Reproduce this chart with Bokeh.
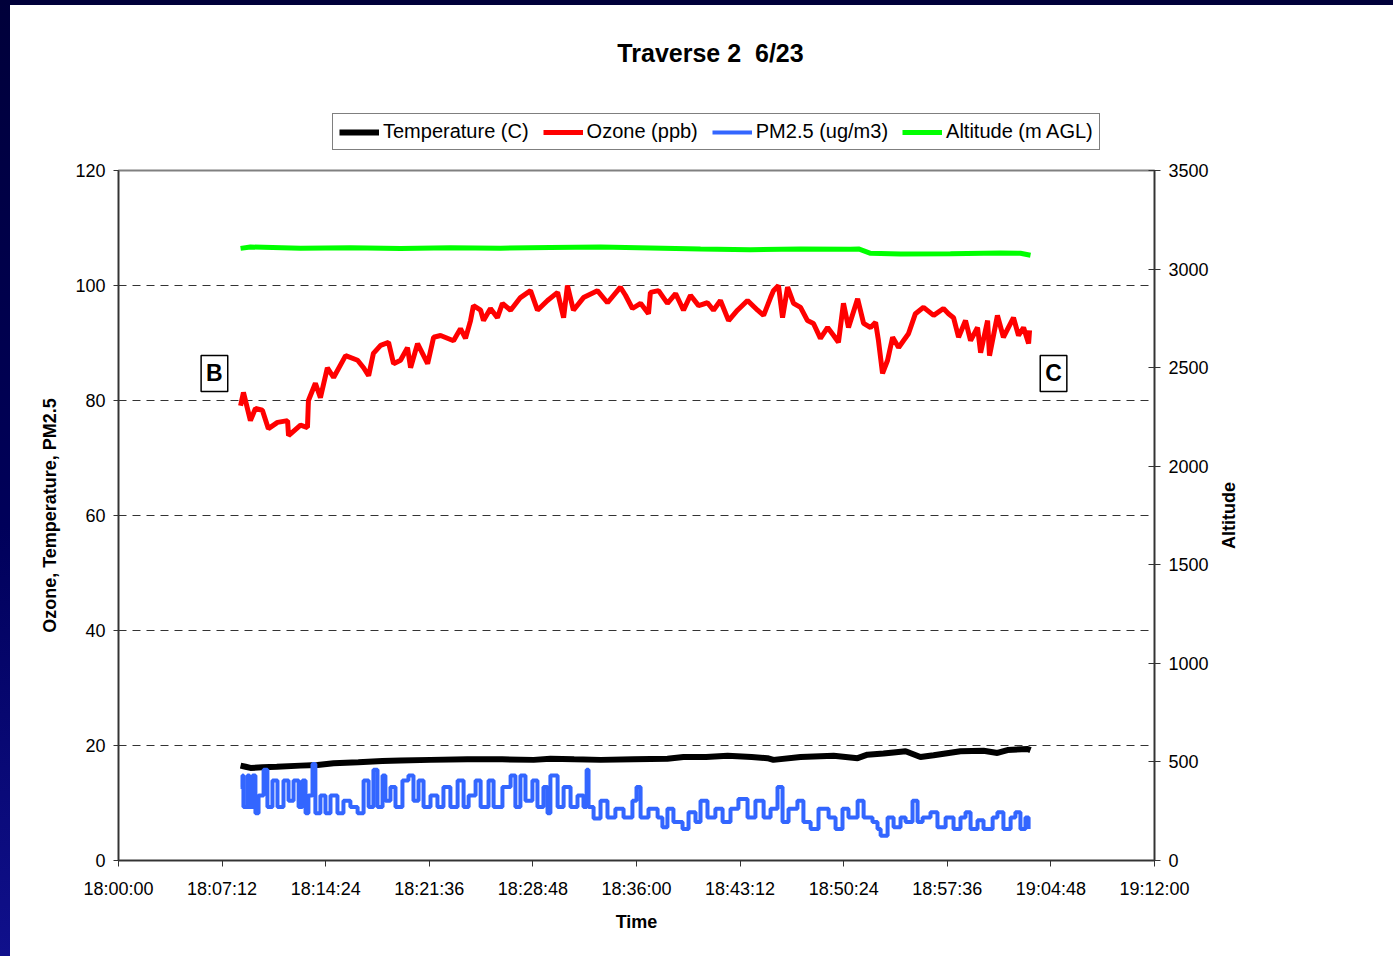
import math
from bokeh.plotting import figure
from bokeh.models import (Range1d, LinearAxis, FixedTicker, Legend, LegendItem,
                          Label, Div)
from bokeh.layouts import row, column
from bokeh.embed import file_html
from bokeh.resources import INLINE

FONT = "Liberation Sans"

# ---- data (time in seconds after 18:00:00) ----
x_ticks = [0, 432, 864, 1296, 1728, 2160, 2592, 3024, 3456, 3888, 4320]
x_tick_labels = ["18:00:00", "18:07:12", "18:14:24", "18:21:36", "18:28:48", "18:36:00",
                 "18:43:12", "18:50:24", "18:57:36", "19:04:48", "19:12:00"]
left_ticks = [0, 20, 40, 60, 80, 100, 120]
right_ticks = [0, 500, 1000, 1500, 2000, 2500, 3000, 3500]

ozone_t = [509, 521, 550, 571, 600, 625, 663, 705, 709, 759,
           788, 792, 821, 842, 871, 897, 947, 997, 1022, 1043,
           1063, 1093, 1126, 1147, 1176, 1205, 1218, 1247, 1289, 1314,
           1343, 1397, 1426, 1447, 1468, 1480, 1510, 1522, 1551, 1580,
           1601, 1635, 1676, 1718, 1747, 1789, 1831, 1856, 1872, 1897,
           1939, 1997, 2039, 2093, 2114, 2143, 2177, 2210, 2218, 2252,
           2289, 2323, 2356, 2385, 2419, 2456, 2481, 2510, 2544, 2581,
           2623, 2665, 2690, 2719, 2731, 2752, 2769, 2790, 2815, 2844,
           2873, 2898, 2927, 2957, 2982, 3002, 3023, 3044, 3082, 3107,
           3136, 3157, 3169, 3186, 3207, 3228, 3253, 3273, 3294, 3323,
           3357, 3399, 3440, 3461, 3482, 3503, 3532, 3553, 3582, 3595,
           3624, 3632, 3665, 3690, 3732, 3753, 3774, 3795, 3799]
ozone_ppb = [79.1, 81.4, 76.5, 78.6, 78.3, 75.1, 76.2, 76.5, 73.9, 75.7,
             75.3, 80.0, 83.0, 80.5, 85.7, 84.0, 87.8, 87.0, 85.7, 84.3,
             88.2, 89.6, 90.1, 86.4, 87.0, 89.2, 85.7, 89.9, 86.4, 91.0,
             91.3, 90.4, 92.5, 90.8, 93.9, 96.5, 95.7, 93.9, 96.0, 94.4,
             96.9, 95.7, 97.9, 99.1, 95.7, 97.4, 98.8, 94.4, 100.0, 95.7,
             97.9, 99.1, 97.0, 99.7, 98.3, 96.0, 96.9, 95.1, 98.8, 99.1,
             96.9, 98.6, 95.7, 98.3, 96.5, 97.0, 95.7, 97.4, 93.9, 95.7,
             97.4, 95.7, 94.8, 97.9, 99.1, 100.0, 94.4, 99.7, 96.9, 96.2,
             93.9, 93.4, 90.8, 92.7, 91.3, 90.1, 96.9, 92.7, 97.7, 93.4,
             92.7, 93.6, 90.4, 84.7, 87.0, 91.0, 89.2, 90.4, 91.6, 95.1,
             96.2, 94.8, 96.0, 95.1, 94.4, 91.0, 93.9, 90.4, 92.7, 88.3,
             93.9, 87.8, 94.8, 91.0, 94.4, 91.3, 92.7, 89.9, 92.2]

pm_t = [509, 517, 521, 538, 546, 559, 571, 584, 605, 621,
        642, 663, 688, 709, 730, 751, 767, 780, 792, 809,
        821, 842, 863, 884, 913, 938, 967, 997, 1022, 1043,
        1063, 1080, 1101, 1113, 1134, 1155, 1184, 1209, 1230, 1251,
        1272, 1301, 1330, 1355, 1384, 1414, 1439, 1460, 1489, 1510,
        1543, 1564, 1601, 1635, 1655, 1676, 1697, 1726, 1747, 1772,
        1789, 1801, 1831, 1856, 1885, 1914, 1939, 1952, 1960, 1981,
        2010, 2039, 2072, 2106, 2143, 2160, 2177, 2210, 2248, 2268,
        2289, 2314, 2352, 2377, 2406, 2427, 2456, 2489, 2519, 2552,
        2585, 2623, 2656, 2690, 2719, 2748, 2769, 2794, 2831, 2856,
        2886, 2919, 2961, 2990, 3019, 3044, 3082, 3107, 3144, 3165,
        3178, 3207, 3232, 3261, 3282, 3311, 3332, 3353, 3386, 3415,
        3449, 3482, 3511, 3532, 3553, 3582, 3607, 3645, 3665, 3690,
        3720, 3740, 3761, 3782, 3795]
pm25 = [12.8, 14.8, 9.3, 14.8, 9.3, 14.8, 8.2, 11.3, 15.8, 9.3,
        13.9, 9.3, 13.9, 10.4, 13.9, 9.3, 13.9, 8.2, 11.3, 16.8,
        8.2, 11.3, 8.2, 11.3, 8.2, 10.4, 9.3, 8.2, 13.9, 9.3,
        15.8, 9.3, 14.8, 10.4, 12.8, 9.3, 13.9, 14.8, 10.4, 13.9,
        9.3, 11.3, 9.3, 12.8, 9.3, 13.9, 9.3, 11.3, 13.9, 9.3,
        13.9, 9.3, 12.8, 14.8, 9.3, 14.8, 10.4, 13.9, 9.3, 12.8,
        8.2, 14.8, 9.3, 12.8, 9.3, 11.3, 9.3, 15.8, 9.3, 7.3,
        10.4, 7.5, 9.0, 7.5, 10.4, 12.8, 7.5, 9.0, 7.5, 5.8,
        9.0, 6.7, 5.5, 8.4, 6.7, 10.4, 7.5, 9.0, 6.7, 9.0,
        10.7, 7.5, 10.4, 7.5, 9.0, 12.8, 6.7, 9.0, 10.4, 6.7,
        5.5, 9.0, 7.5, 5.5, 9.0, 7.5, 10.4, 7.5, 6.7, 5.5,
        4.3, 7.5, 5.8, 7.5, 6.7, 10.4, 6.7, 7.5, 8.4, 5.8,
        7.5, 5.5, 7.5, 8.4, 5.5, 7.0, 5.5, 7.5, 8.4, 5.5,
        7.5, 8.4, 5.5, 7.5, 5.5]

temp_t = [509, 530, 550, 600, 660, 759, 830, 897, 1000, 1100,
          1176, 1300, 1455, 1600, 1731, 1801, 1900, 2010, 2148, 2289,
          2356, 2450, 2540, 2640, 2706, 2731, 2844, 2982, 3082, 3123,
          3190, 3232, 3282, 3344, 3399, 3511, 3607, 3665, 3707, 3791, 3803]
temp_c = [16.5, 16.3, 16.1, 16.2, 16.3, 16.5, 16.6, 16.9, 17.1, 17.3,
          17.4, 17.5, 17.6, 17.6, 17.5, 17.7, 17.6, 17.5, 17.6, 17.7,
          18.0, 18.0, 18.2, 18.0, 17.8, 17.5, 18.0, 18.2, 17.8, 18.4,
          18.6, 18.8, 19.0, 18.0, 18.3, 19.0, 19.1, 18.7, 19.2, 19.4, 19.2]

alt_t = [509, 550, 759, 967, 1176, 1384, 1593, 1801, 2010, 2218,
         2427, 2635, 2844, 3052, 3086, 3136, 3261, 3469, 3678, 3761, 3803]
alt_m = [3105, 3112, 3105, 3108, 3104, 3108, 3106, 3110, 3112, 3107,
         3102, 3098, 3102, 3100, 3102, 3080, 3077, 3078, 3081, 3080, 3070]

series_names = ["Temperature (C)", "Ozone (ppb)", "PM2.5 (ug/m3)", "Altitude (m AGL)"]
series_colors = ["black", "#ff0000", "#3366ff", "#00ff00"]
series_widths = [6, 5, 4, 5]

def blank_fig(w, h, **borders):
    f = figure(width=w, height=h, output_backend="svg", toolbar_location=None,
               x_range=Range1d(0, 1), y_range=Range1d(0, 1),
               x_axis_location=None, y_axis_location=None,
               background_fill_color="white", border_fill_color="white", **borders)
    f.outline_line_color = None
    f.grid.grid_line_color = None
    return f

# ---- header: title + legend (frame spans the same x as the chart frame) ----
head = blank_fig(1383, 155, min_border_left=108, min_border_right=239,
                 min_border_top=0, min_border_bottom=0)
head.add_layout(Label(x=592, y=108, x_units="screen", y_units="screen",
                      text="Traverse 2 \u00a06/23", text_align="center", text_baseline="middle",
                      text_font=FONT, text_font_size="25px", text_font_style="bold",
                      text_color="black"))
# legend keys (series drawn outside this header's visible range)
keys = [head.line(temp_t, temp_c, line_color=series_colors[0], line_width=series_widths[0]),
        head.line(ozone_t, ozone_ppb, line_color=series_colors[1], line_width=series_widths[1]),
        head.line(pm_t, pm25, line_color=series_colors[2], line_width=series_widths[2]),
        head.line(alt_t, alt_m, line_color=series_colors[3], line_width=series_widths[3])]
legend = Legend(items=[LegendItem(label=n, renderers=[r]) for n, r in zip(series_names, keys)],
                orientation="horizontal", location=(214, 10),
                label_text_font=FONT, label_text_font_size="20px",
                label_text_color="black",
                glyph_width=40, glyph_height=20, label_standoff=4, spacing=14,
                padding=6, margin=0,
                border_line_color="black", border_line_width=1,
                background_fill_color="white", background_fill_alpha=1)
head.add_layout(legend, "center")

# ---- main chart ----
p = figure(width=1204, height=796, output_backend="svg", toolbar_location=None,
           x_range=Range1d(0, 4320), y_range=Range1d(0, 120),
           min_border_left=108, min_border_right=60,
           min_border_top=10, min_border_bottom=96,
           background_fill_color="white", border_fill_color="white")
p.extra_y_ranges = {"alt": Range1d(0, 3500)}

p.outline_line_color = "#808080"
p.outline_line_width = 2
p.xgrid.grid_line_color = None
p.ygrid.ticker = FixedTicker(ticks=[20, 40, 60, 80, 100])
p.ygrid.grid_line_color = "#333333"
p.ygrid.grid_line_dash = "8 6"
p.ygrid.grid_line_width = 1

def style_axis(ax):
    ax.axis_line_color = "#333333"
    ax.axis_line_width = 1.5
    ax.major_tick_line_color = "#333333"
    ax.minor_tick_line_color = None
    ax.major_label_text_font = FONT
    ax.major_label_text_font_size = "18px"
    ax.major_label_text_color = "black"
    ax.axis_label_text_font = FONT
    ax.axis_label_text_font_size = "18px"
    ax.axis_label_text_font_style = "bold"
    ax.axis_label_text_color = "black"

xa = p.xaxis[0]
style_axis(xa)
xa.ticker = FixedTicker(ticks=x_ticks)
xa.major_label_overrides = dict(zip(x_ticks, x_tick_labels))
xa.major_tick_in = 0
xa.major_tick_out = 6
xa.major_label_standoff = 12
xa.axis_label = "Time"
xa.axis_label_standoff = 10

ya = p.yaxis[0]
style_axis(ya)
ya.ticker = FixedTicker(ticks=left_ticks)
ya.major_tick_in = 0
ya.major_tick_out = 5
ya.major_label_standoff = 8
ya.axis_label = "Ozone, Temperature, PM2.5"
ya.axis_label_standoff = 12

ra = LinearAxis(y_range_name="alt", ticker=FixedTicker(ticks=right_ticks))
style_axis(ra)
ra.major_tick_in = 6
ra.major_tick_out = 6
ra.major_label_standoff = 8
p.add_layout(ra, "right")

p.line(alt_t, alt_m, y_range_name="alt", line_color=series_colors[3], line_width=series_widths[3])
p.line(temp_t, temp_c, line_color=series_colors[0], line_width=series_widths[0])
p.step(pm_t, pm25, mode="after", line_color=series_colors[2], line_width=series_widths[2])
p.line(ozone_t, ozone_ppb, line_color=series_colors[1], line_width=series_widths[1])

for txt, tx in (("B", 400), ("C", 3899)):
    p.add_layout(Label(x=tx, y=84.7, text=txt, text_align="center", text_baseline="middle",
                       text_font=FONT, text_font_size="23px", text_font_style="bold",
                       text_color="black", border_line_color="black", border_line_width=1.5,
                       background_fill_color="white", padding=5))

# ---- right-axis title (reads bottom-to-top, centred on the frame) ----
side = blank_fig(179, 796, min_border_left=0, min_border_right=0,
                 min_border_top=10, min_border_bottom=96)
side.add_layout(Label(x=14, y=345, x_units="screen", y_units="screen",
                      text="Altitude", angle=math.pi / 2,
                      text_align="center", text_baseline="middle",
                      text_font=FONT, text_font_size="18px", text_font_style="bold",
                      text_color="black"))

navy_left = Div(text="", width=10, height=956, margin=0,
                styles={"background": "linear-gradient(to bottom, #00003a 0%, #00005a 55%, #10108c 100%)"})
navy_top = Div(text="", width=1383, height=5, margin=0,
               styles={"background": "#00003a"})
page = row(navy_left,
           column(navy_top, head, row(p, side, spacing=0), spacing=0),
           spacing=0)

open("out.html", "w").write(file_html(page, INLINE))
